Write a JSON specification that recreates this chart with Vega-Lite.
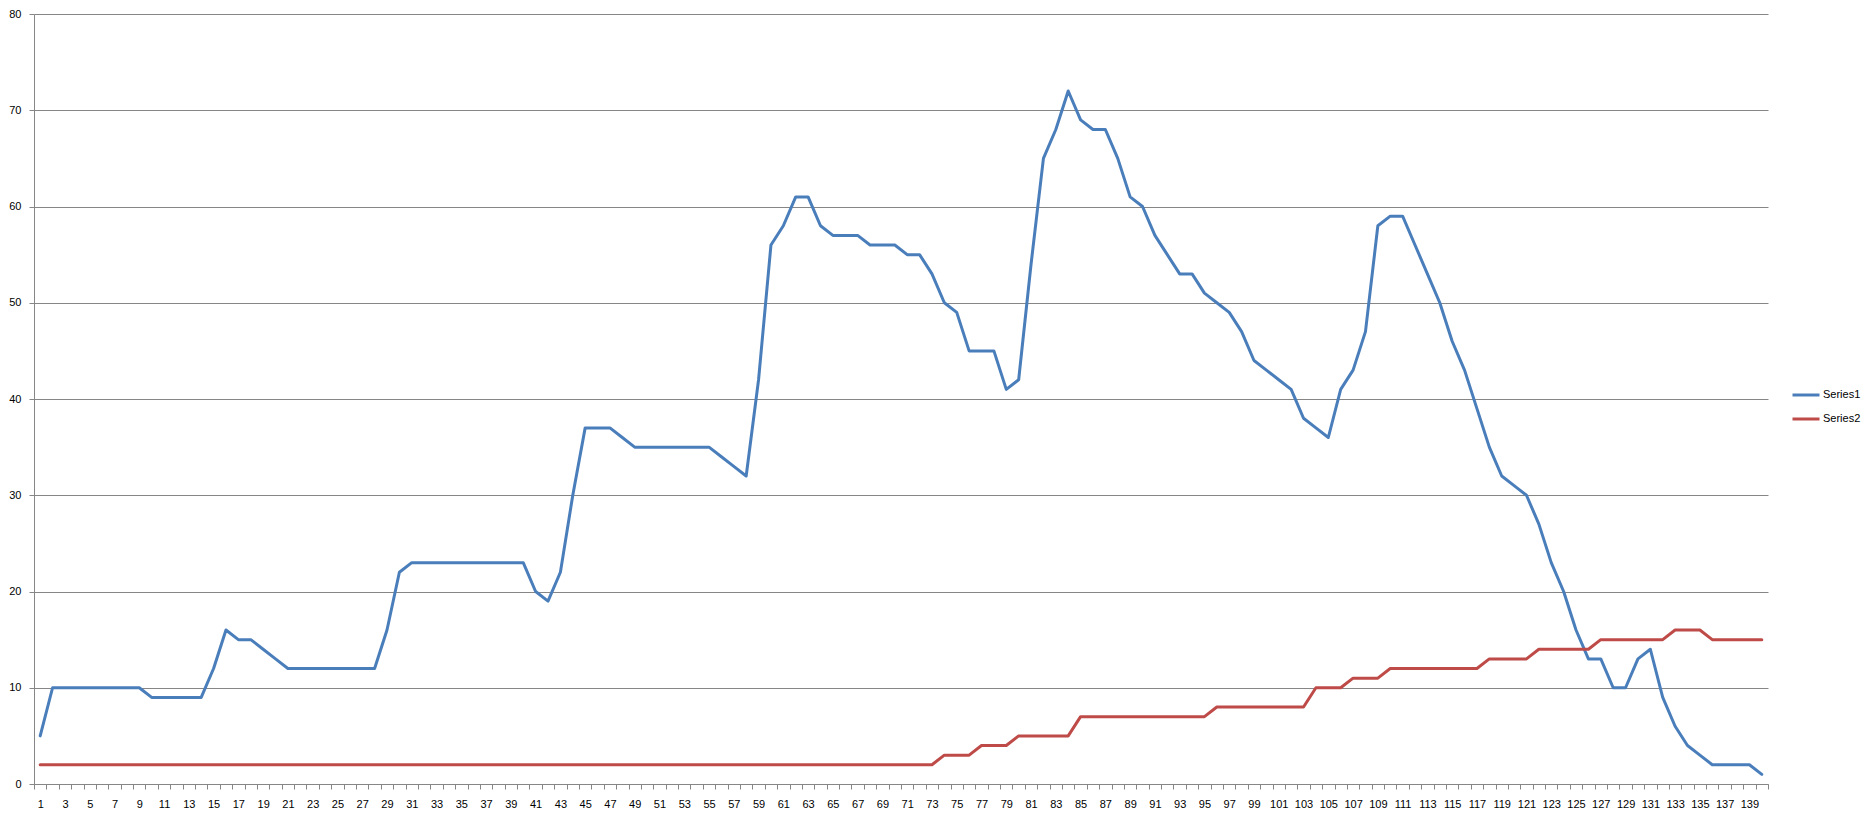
{
  "$schema": "https://vega.github.io/schema/vega-lite/v6.json",
  "autosize": "none",
  "width": 1734,
  "height": 770,
  "padding": {"left": 34, "top": 14, "right": 106, "bottom": 35},
  "background": "white",
  "config": {
    "view": {"stroke": null},
    "font": "Liberation Sans",
    "axis": {"labelFont": "Liberation Sans", "labelFontSize": 11, "labelColor": "black", "domainColor": "#868686", "tickColor": "#868686", "gridColor": "#868686", "domainWidth": 1, "tickWidth": 1, "gridWidth": 1}
  },
  "data": {
    "values": [
      {"x":1,"Series1":5,"Series2":2},{"x":2,"Series1":10,"Series2":2},{"x":3,"Series1":10,"Series2":2},{"x":4,"Series1":10,"Series2":2},{"x":5,"Series1":10,"Series2":2},
      {"x":6,"Series1":10,"Series2":2},{"x":7,"Series1":10,"Series2":2},{"x":8,"Series1":10,"Series2":2},{"x":9,"Series1":10,"Series2":2},{"x":10,"Series1":9,"Series2":2},
      {"x":11,"Series1":9,"Series2":2},{"x":12,"Series1":9,"Series2":2},{"x":13,"Series1":9,"Series2":2},{"x":14,"Series1":9,"Series2":2},{"x":15,"Series1":12,"Series2":2},
      {"x":16,"Series1":16,"Series2":2},{"x":17,"Series1":15,"Series2":2},{"x":18,"Series1":15,"Series2":2},{"x":19,"Series1":14,"Series2":2},{"x":20,"Series1":13,"Series2":2},
      {"x":21,"Series1":12,"Series2":2},{"x":22,"Series1":12,"Series2":2},{"x":23,"Series1":12,"Series2":2},{"x":24,"Series1":12,"Series2":2},{"x":25,"Series1":12,"Series2":2},
      {"x":26,"Series1":12,"Series2":2},{"x":27,"Series1":12,"Series2":2},{"x":28,"Series1":12,"Series2":2},{"x":29,"Series1":16,"Series2":2},{"x":30,"Series1":22,"Series2":2},
      {"x":31,"Series1":23,"Series2":2},{"x":32,"Series1":23,"Series2":2},{"x":33,"Series1":23,"Series2":2},{"x":34,"Series1":23,"Series2":2},{"x":35,"Series1":23,"Series2":2},
      {"x":36,"Series1":23,"Series2":2},{"x":37,"Series1":23,"Series2":2},{"x":38,"Series1":23,"Series2":2},{"x":39,"Series1":23,"Series2":2},{"x":40,"Series1":23,"Series2":2},
      {"x":41,"Series1":20,"Series2":2},{"x":42,"Series1":19,"Series2":2},{"x":43,"Series1":22,"Series2":2},{"x":44,"Series1":30,"Series2":2},{"x":45,"Series1":37,"Series2":2},
      {"x":46,"Series1":37,"Series2":2},{"x":47,"Series1":37,"Series2":2},{"x":48,"Series1":36,"Series2":2},{"x":49,"Series1":35,"Series2":2},{"x":50,"Series1":35,"Series2":2},
      {"x":51,"Series1":35,"Series2":2},{"x":52,"Series1":35,"Series2":2},{"x":53,"Series1":35,"Series2":2},{"x":54,"Series1":35,"Series2":2},{"x":55,"Series1":35,"Series2":2},
      {"x":56,"Series1":34,"Series2":2},{"x":57,"Series1":33,"Series2":2},{"x":58,"Series1":32,"Series2":2},{"x":59,"Series1":42,"Series2":2},{"x":60,"Series1":56,"Series2":2},
      {"x":61,"Series1":58,"Series2":2},{"x":62,"Series1":61,"Series2":2},{"x":63,"Series1":61,"Series2":2},{"x":64,"Series1":58,"Series2":2},{"x":65,"Series1":57,"Series2":2},
      {"x":66,"Series1":57,"Series2":2},{"x":67,"Series1":57,"Series2":2},{"x":68,"Series1":56,"Series2":2},{"x":69,"Series1":56,"Series2":2},{"x":70,"Series1":56,"Series2":2},
      {"x":71,"Series1":55,"Series2":2},{"x":72,"Series1":55,"Series2":2},{"x":73,"Series1":53,"Series2":2},{"x":74,"Series1":50,"Series2":3},{"x":75,"Series1":49,"Series2":3},
      {"x":76,"Series1":45,"Series2":3},{"x":77,"Series1":45,"Series2":4},{"x":78,"Series1":45,"Series2":4},{"x":79,"Series1":41,"Series2":4},{"x":80,"Series1":42,"Series2":5},
      {"x":81,"Series1":54,"Series2":5},{"x":82,"Series1":65,"Series2":5},{"x":83,"Series1":68,"Series2":5},{"x":84,"Series1":72,"Series2":5},{"x":85,"Series1":69,"Series2":7},
      {"x":86,"Series1":68,"Series2":7},{"x":87,"Series1":68,"Series2":7},{"x":88,"Series1":65,"Series2":7},{"x":89,"Series1":61,"Series2":7},{"x":90,"Series1":60,"Series2":7},
      {"x":91,"Series1":57,"Series2":7},{"x":92,"Series1":55,"Series2":7},{"x":93,"Series1":53,"Series2":7},{"x":94,"Series1":53,"Series2":7},{"x":95,"Series1":51,"Series2":7},
      {"x":96,"Series1":50,"Series2":8},{"x":97,"Series1":49,"Series2":8},{"x":98,"Series1":47,"Series2":8},{"x":99,"Series1":44,"Series2":8},{"x":100,"Series1":43,"Series2":8},
      {"x":101,"Series1":42,"Series2":8},{"x":102,"Series1":41,"Series2":8},{"x":103,"Series1":38,"Series2":8},{"x":104,"Series1":37,"Series2":10},{"x":105,"Series1":36,"Series2":10},
      {"x":106,"Series1":41,"Series2":10},{"x":107,"Series1":43,"Series2":11},{"x":108,"Series1":47,"Series2":11},{"x":109,"Series1":58,"Series2":11},{"x":110,"Series1":59,"Series2":12},
      {"x":111,"Series1":59,"Series2":12},{"x":112,"Series1":56,"Series2":12},{"x":113,"Series1":53,"Series2":12},{"x":114,"Series1":50,"Series2":12},{"x":115,"Series1":46,"Series2":12},
      {"x":116,"Series1":43,"Series2":12},{"x":117,"Series1":39,"Series2":12},{"x":118,"Series1":35,"Series2":13},{"x":119,"Series1":32,"Series2":13},{"x":120,"Series1":31,"Series2":13},
      {"x":121,"Series1":30,"Series2":13},{"x":122,"Series1":27,"Series2":14},{"x":123,"Series1":23,"Series2":14},{"x":124,"Series1":20,"Series2":14},{"x":125,"Series1":16,"Series2":14},
      {"x":126,"Series1":13,"Series2":14},{"x":127,"Series1":13,"Series2":15},{"x":128,"Series1":10,"Series2":15},{"x":129,"Series1":10,"Series2":15},{"x":130,"Series1":13,"Series2":15},
      {"x":131,"Series1":14,"Series2":15},{"x":132,"Series1":9,"Series2":15},{"x":133,"Series1":6,"Series2":16},{"x":134,"Series1":4,"Series2":16},{"x":135,"Series1":3,"Series2":16},
      {"x":136,"Series1":2,"Series2":15},{"x":137,"Series1":2,"Series2":15},{"x":138,"Series1":2,"Series2":15},{"x":139,"Series1":2,"Series2":15},{"x":140,"Series1":1,"Series2":15}
    ]
  },
  "transform": [{"fold": ["Series1", "Series2"], "as": ["series", "value"]}],
  "mark": {"type": "line", "strokeWidth": 3, "strokeJoin": "round", "strokeCap": "round"},
  "encoding": {
    "x": {
      "field": "x", "type": "quantitative",
      "scale": {"domain": [0.5, 140.5], "nice": false, "zero": false},
      "axis": {
        "title": null, "grid": false, "tickCount": 280, "labelOverlap": false, "labelBound": false, "labelFlush": false,
        "tickSize": 5, "labelPadding": 9,
        "labelExpr": "datum.value % 2 == 1 ? datum.value : ''",
        "tickOpacity": {"condition": {"test": "datum.value % 1 == 0", "value": 0}, "value": 1}
      }
    },
    "y": {
      "field": "value", "type": "quantitative",
      "scale": {"domain": [0, 80], "nice": false},
      "axis": {"title": null, "values": [0,10,20,30,40,50,60,70,80], "grid": true, "tickSize": 5, "labelPadding": 8}
    },
    "color": {
      "field": "series", "type": "nominal",
      "scale": {"domain": ["Series1", "Series2"], "range": ["#4A7EBB", "#BE4B48"]},
      "legend": {
        "title": null, "orient": "none", "legendX": 1757, "legendY": 366,
        "symbolType": "stroke", "symbolSize": 729, "symbolStrokeWidth": 3,
        "labelFont": "Liberation Sans", "labelFontSize": 11, "labelColor": "black", "labelOffset": 2,
        "rowPadding": 3, "padding": 0
      }
    }
  }
}
